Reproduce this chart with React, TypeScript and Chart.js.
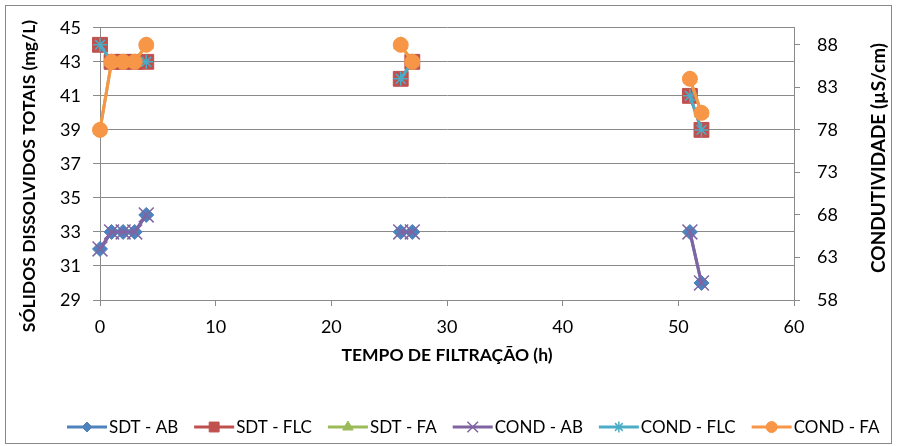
import React, { useEffect, useRef } from 'react';
import { Chart, registerables } from 'chart.js';

Chart.register(...registerables);

const HOURS = [0, 1, 2, 3, 4, 26, 27, 51, 52];
const SDT_AB = [32, 33, 33, 33, 34, 33, 33, 33, 30];
const SDT_FLC = [44, 43, 43, 43, 43, 42, 43, 41, 39];
const SDT_FA = [39, 43, 43, 43, 44, 44, 43, 42, 40];
const COND_AB = [64, 66, 66, 66, 68, 66, 66, 66, 60];
const COND_FLC = [88, 86, 86, 86, 86, 84, 86, 82, 78];
const COND_FA = [78, 86, 86, 86, 88, 88, 86, 84, 80];

const X_TICKS = [0, 10, 20, 30, 40, 50, 60];
const LEFT_TICKS = [29, 31, 33, 35, 37, 39, 41, 43, 45];
const RIGHT_TICKS = [58, 63, 68, 73, 78, 83, 88];

const X_TITLE = 'TEMPO DE FILTRAÇÃO (h)';
const LEFT_TITLE = 'SÓLIDOS DISSOLVIDOS TOTAIS (mg/L)';
const RIGHT_TITLE = 'CONDUTIVIDADE (µS/cm)';

const FONT = 'Lato, "Open Sans", sans-serif';
const GRID = '#8a8a8a';

type SeriesDef = {
  label: string;
  values: number[];
  axis: string;
  color: string;
  style: string;
  radius: number;
  legendRadius: number;
  bw: number;
};

const SERIES: SeriesDef[] = [
  { label: 'SDT - AB', values: SDT_AB, axis: 'y', color: '#4F81BD', style: 'rectRot', radius: 7.5, legendRadius: 5, bw: 1 },
  { label: 'SDT - FLC', values: SDT_FLC, axis: 'y', color: '#C0504D', style: 'rect', radius: 10.5, legendRadius: 7, bw: 1 },
  { label: 'SDT - FA', values: SDT_FA, axis: 'y', color: '#9BBB59', style: 'triangle', radius: 8, legendRadius: 6, bw: 1 },
  { label: 'COND - AB', values: COND_AB, axis: 'y1', color: '#8064A2', style: 'crossRot', radius: 10.5, legendRadius: 7.5, bw: 1.5 },
  { label: 'COND - FLC', values: COND_FLC, axis: 'y1', color: '#4BACC6', style: 'star', radius: 7, legendRadius: 5.5, bw: 1.5 },
  { label: 'COND - FA', values: COND_FA, axis: 'y1', color: '#F79646', style: 'circle', radius: 7.5, legendRadius: 5.5, bw: 1 },
];

function drawMarker(ctx: CanvasRenderingContext2D, style: string, x: number, y: number, r: number, color: string, bw: number) {
  ctx.save();
  ctx.fillStyle = color;
  ctx.strokeStyle = color;
  ctx.lineWidth = bw;
  ctx.beginPath();
  const s = Math.SQRT1_2 * r;
  switch (style) {
    case 'rectRot':
      ctx.moveTo(x - r, y); ctx.lineTo(x, y - r); ctx.lineTo(x + r, y); ctx.lineTo(x, y + r); ctx.closePath();
      ctx.fill(); ctx.stroke();
      break;
    case 'rect':
      ctx.rect(x - s, y - s, 2 * s, 2 * s);
      ctx.fill(); ctx.stroke();
      break;
    case 'triangle':
      ctx.moveTo(x, y - r); ctx.lineTo(x + r * 0.87, y + r * 0.5); ctx.lineTo(x - r * 0.87, y + r * 0.5); ctx.closePath();
      ctx.fill(); ctx.stroke();
      break;
    case 'crossRot':
      ctx.moveTo(x - s, y - s); ctx.lineTo(x + s, y + s); ctx.moveTo(x - s, y + s); ctx.lineTo(x + s, y - s);
      ctx.stroke();
      break;
    case 'star':
      ctx.moveTo(x - s, y - s); ctx.lineTo(x + s, y + s); ctx.moveTo(x - s, y + s); ctx.lineTo(x + s, y - s);
      ctx.moveTo(x, y - r); ctx.lineTo(x, y + r);
      ctx.stroke();
      break;
    default:
      ctx.arc(x, y, r, 0, Math.PI * 2);
      ctx.fill(); ctx.stroke();
  }
  ctx.restore();
}

const extrasPlugin = {
  id: 'extras',
  afterDraw(chart: any) {
    const ctx: CanvasRenderingContext2D = chart.ctx;
    ctx.save();
    // Legend
    ctx.font = `17px ${FONT}`;
    ctx.textBaseline = 'middle';
    ctx.textAlign = 'left';
    let x = 67;
    const y = 427;
    SERIES.forEach((s) => {
      ctx.strokeStyle = s.color;
      ctx.lineWidth = 3;
      ctx.beginPath();
      ctx.moveTo(x, y);
      ctx.lineTo(x + 40, y);
      ctx.stroke();
      drawMarker(ctx, s.style, x + 20, y, s.legendRadius, s.color, s.bw);
      ctx.fillStyle = '#000';
      ctx.fillText(s.label, x + 42, y + 1);
      x += 42 + ctx.measureText(s.label).width + 16;
    });
    // Y titles (both read bottom-to-top)
    ctx.textAlign = 'center';
    ctx.fillStyle = '#000';
    ctx.font = `bold 17.5px ${FONT}`;
    ctx.save();
    ctx.translate(29, 176);
    ctx.rotate(-Math.PI / 2);
    ctx.fillText(LEFT_TITLE, 0, 0);
    ctx.restore();
    ctx.font = `bold 19px ${FONT}`;
    ctx.save();
    ctx.translate(879, 158);
    ctx.rotate(-Math.PI / 2);
    ctx.fillText(RIGHT_TITLE, 0, 0);
    ctx.restore();
    ctx.restore();
  },
};

export default function App() {
  const ref = useRef<HTMLCanvasElement | null>(null);

  useEffect(() => {
    if (!ref.current) return;
    Chart.defaults.font.family = FONT;
    const datasets = SERIES.map((s, i) => ({
      label: s.label,
      data: HOURS.map((h, k) => ({ x: h, y: s.values[k] })),
      yAxisID: s.axis,
      borderColor: s.color,
      backgroundColor: s.color,
      borderWidth: 3,
      pointStyle: s.style,
      pointRadius: s.radius,
      pointHoverRadius: s.radius,
      pointBorderWidth: s.bw,
      pointBorderColor: s.color,
      pointBackgroundColor: s.color,
      tension: 0,
      clip: false,
      order: SERIES.length - 1 - i,
      segment: {
        borderColor: (c: any) => (c.p1.parsed.x - c.p0.parsed.x > 10 ? 'rgba(0,0,0,0)' : undefined),
      },
    }));

    const chart = new Chart(ref.current, {
      type: 'line',
      data: { datasets },
      plugins: [extrasPlugin],
      options: {
        responsive: false,
        animation: false,
        devicePixelRatio: 1,
        layout: { padding: { top: 24, left: 0, right: 0, bottom: 0 } },
        plugins: { legend: { display: false }, tooltip: { enabled: false } },
        scales: {
          x: {
            type: 'linear',
            position: 'bottom',
            min: 0,
            max: 60,
            afterBuildTicks: (s: any) => { s.ticks = X_TICKS.map((v) => ({ value: v })); },
            afterFit: (s: any) => { s.height = 146; },
            grid: { drawOnChartArea: false, drawTicks: true, tickLength: 6, color: GRID },
            border: { display: true, color: GRID, width: 1 },
            ticks: { color: '#000', font: { size: 18 }, padding: 10, maxRotation: 0 },
            title: {
              display: true,
              text: X_TITLE,
              color: '#000',
              font: { size: 17.5, weight: 'bold' },
              padding: { top: 0, bottom: 80 },
            },
          },
          y: {
            type: 'linear',
            position: 'left',
            min: 29,
            max: 45,
            afterBuildTicks: (s: any) => { s.ticks = LEFT_TICKS.map((v) => ({ value: v })); },
            afterFit: (s: any) => { s.width = 100; },
            grid: { color: GRID, tickLength: 7 },
            border: { display: true, color: GRID, width: 1 },
            ticks: { color: '#000', font: { size: 18 }, padding: 12 },
          },
          y1: {
            type: 'linear',
            position: 'right',
            min: 58,
            max: 90,
            afterBuildTicks: (s: any) => { s.ticks = RIGHT_TICKS.map((v) => ({ value: v })); },
            afterFit: (s: any) => { s.width = 106; },
            grid: { drawOnChartArea: false, color: GRID, tickLength: 6 },
            border: { display: true, color: GRID, width: 1 },
            ticks: { color: '#000', font: { size: 18 }, padding: 17 },
          },
        },
      },
    });
    return () => chart.destroy();
  }, []);

  return (
    <div style={{ position: 'fixed', left: 0, top: 0, width: 900, height: 446, background: '#fff' }}>
      <div
        style={{
          position: 'absolute',
          left: 5,
          top: 5,
          width: 887,
          height: 439,
          border: '1px solid #888',
          boxSizing: 'border-box',
        }}
      />
      <canvas ref={ref} width={900} height={446} style={{ position: 'absolute', left: 0, top: 0 }} />
    </div>
  );
}
